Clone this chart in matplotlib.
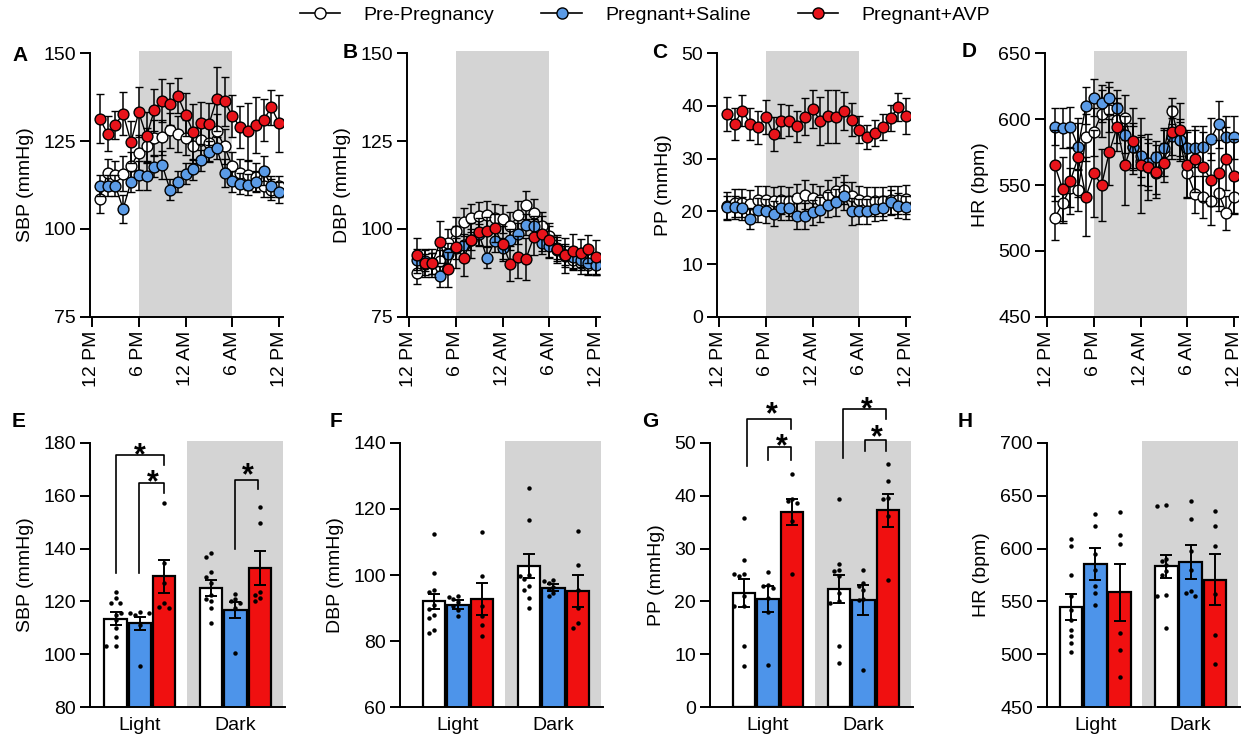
import numpy as np
import matplotlib
matplotlib.use('Agg')
import matplotlib.pyplot as plt
from matplotlib.lines import Line2D
from matplotlib.patches import Rectangle

plt.rcParams['font.family'] = ['Liberation Sans', 'DejaVu Sans']

# ---------------- data ----------------
hours = list(range(1, 25))
time_ticks = [0, 6, 12, 18, 24]
time_labels = ['12 PM', '6 PM', '12 AM', '6 AM', '12 PM']
groups = ['Pre-Pregnancy', 'Pregnant+Saline', 'Pregnant+AVP']
phases = ['Light', 'Dark']

sbp_pre = [108.5, 115.9, 115.2, 115.7, 117.8, 121.7, 123.7, 125.9, 126.1, 128.0, 127.0, 125.9,
           123.7, 125.4, 124.4, 127.7, 123.5, 117.8, 115.9, 115.2, 114.7, 112.1, 111.2, 112.1]
sbp_sal = [112.3, 112.3, 112.3, 105.7, 113.4, 115.2, 115.1, 117.7, 118.3, 111.2, 113.4, 115.7,
           117.0, 119.5, 122.0, 123.0, 115.9, 113.5, 112.9, 112.6, 113.4, 116.6, 112.1, 110.4]
sbp_avp = [131.3, 127.1, 129.6, 132.8, 124.7, 133.2, 126.3, 133.8, 136.5, 135.6, 137.9, 132.5,
           127.5, 130.1, 129.8, 136.9, 136.3, 132.2, 128.9, 127.7, 129.5, 130.9, 134.6, 130.0]
sbp_pre_err = [4, 4, 4, 5, 4, 5, 5, 5, 5, 5, 5, 5, 5, 5, 5, 5, 5, 4, 4, 4, 4, 3, 3, 3]
sbp_sal_err = [3, 3, 3, 4, 3, 4, 4, 3, 4, 3, 3, 3, 3, 3, 3, 3, 4, 3, 3, 3, 3, 4, 3, 3]
sbp_avp_err = [7, 5, 4, 6, 6, 7, 7, 6, 6, 6, 5, 6, 8, 6, 6, 9, 7, 6, 6, 8, 8, 6, 5, 8]

dbp_pre = [87.5, 90.0, 90.3, 91.0, 96.0, 99.5, 101.9, 103.1, 103.6, 104.0, 103.1, 102.8,
           100.8, 104.0, 106.9, 104.5, 100.8, 97.9, 94.6, 92.2, 91.3, 90.3, 89.9, 90.3]
dbp_sal = [91.3, 91.0, 90.3, 86.6, 93.0, 94.5, 95.5, 97.0, 98.5, 91.8, 96.5, 94.5,
           97.0, 98.7, 101.2, 100.8, 96.0, 95.1, 94.0, 92.7, 92.0, 91.3, 90.3, 89.9]
dbp_avp = [92.5, 90.3, 90.3, 96.3, 88.6, 94.9, 91.7, 96.8, 99.1, 99.3, 100.2, 95.8,
           90.1, 92.0, 91.5, 97.7, 98.7, 96.8, 94.4, 92.5, 93.7, 93.2, 94.4, 92.0]
dbp_pre_err = [3, 3, 3, 3, 4, 4, 4, 4, 4, 4, 4, 4, 4, 4, 4, 4, 4, 3, 3, 3, 3, 3, 3, 3]
dbp_sal_err = [3, 3, 3, 3, 3, 3, 3, 3, 3, 3, 3, 3, 3, 3, 3, 3, 3, 3, 3, 3, 3, 3, 3, 3]
dbp_avp_err = [5, 4, 4, 6, 5, 6, 5, 5, 4, 4, 4, 5, 5, 6, 6, 5, 5, 5, 4, 5, 5, 4, 4, 5]

pp_pre = [21.0, 21.6, 21.6, 21.4, 22.2, 22.2, 21.9, 22.2, 21.9, 22.5, 23.2, 22.5,
          22.2, 23.2, 23.9, 24.1, 22.9, 22.2, 21.9, 21.9, 21.9, 22.2, 22.2, 22.3]
pp_sal = [20.8, 20.8, 20.6, 18.6, 20.3, 20.1, 19.6, 20.6, 20.6, 19.1, 19.1, 19.8,
          20.3, 21.3, 21.7, 22.9, 20.0, 20.0, 20.0, 20.5, 20.6, 21.7, 21.1, 20.8]
pp_avp = [38.5, 36.6, 39.1, 36.6, 35.9, 37.9, 34.7, 37.1, 37.2, 36.1, 37.9, 39.4,
          37.1, 38.0, 37.9, 39.1, 37.4, 35.5, 34.1, 34.8, 36.0, 37.7, 39.8, 38.1]
pp_pre_err = [2.7] * 24
pp_sal_err = [2.2, 2.2, 2.2, 2.0, 2.3, 2.3, 2.4, 2.3, 2.3, 2.4, 2.4, 2.4,
              2.4, 2.4, 2.5, 2.6, 2.5, 2.4, 2.3, 2.3, 2.3, 2.3, 2.3, 2.2]
pp_avp_err = [3.2, 3.0, 3.0, 3.0, 3.2, 3.2, 3.2, 3.2, 3.0, 3.0, 3.5, 3.6,
              4.6, 5.0, 5.0, 3.6, 3.2, 2.5, 2.2, 2.5, 2.4, 2.4, 2.6, 3.4]

hr_pre = [525, 536, 548, 546, 586, 590, 604, 607, 599, 601, 579, 568,
          564, 559, 575, 606, 584, 559, 543, 541, 538, 544, 529, 541]
hr_sal = [594, 593, 594, 579, 610, 616, 612, 616, 608, 588, 579, 572,
          567, 571, 578, 587, 584, 578, 578, 579, 585, 596, 586, 586]
hr_avp = [565, 547, 553, 571, 541, 559, 550, 575, 594, 565, 583, 565,
          564, 560, 567, 590, 592, 565, 570, 564, 554, 559, 570, 557]
hr_pre_err = [17, 15, 15, 16, 18, 18, 18, 17, 17, 17, 18, 18, 18, 16, 18, 10, 16, 18, 14, 16, 18, 14, 13, 13]
hr_sal_err = [14, 15, 15, 18, 14, 14, 14, 12, 14, 14, 16, 16, 18, 12, 14, 14, 14, 14, 14, 16, 16, 18, 16, 16]
hr_avp_err = [27, 24, 25, 30, 30, 33, 27, 25, 18, 30, 25, 36, 25, 20, 15, 20, 20, 25, 25, 26, 20, 25, 24, 28]

# bar summaries (mean, sem), order: Light(pre, sal, avp), Dark(pre, sal, avp)
sbp_bar_mean = [113.5, 111.7, 129.5, 125.0, 116.7, 132.7]
sbp_bar_sem = [2.5, 2.5, 6.3, 3.0, 3.0, 6.5]
sbp_dots = [[123.7, 121.2, 119.5, 119.5, 115.0, 113.0, 110.0, 106.7, 103.2, 103.0],
            [116.0, 115.5, 115.5, 115.8, 115.0, 111.0, 95.6],
            [157.3, 134.4, 126.9, 119.3, 117.5, 118.0],
            [138.2, 136.9, 131.2, 129.4, 127.0, 122.4, 120.8, 117.4, 111.8, 120.0],
            [123.0, 120.8, 119.3, 117.4, 100.4, 120.0],
            [155.6, 149.5, 122.4, 121.2, 120.0, 123.7]]

dbp_bar_mean = [92.0, 91.0, 92.7, 102.7, 96.2, 95.2]
dbp_bar_sem = [2.3, 1.3, 4.8, 3.5, 1.0, 4.8]
dbp_dots = [[112.3, 100.5, 95.6, 95.0, 90.8, 89.6, 87.0, 83.5, 82.5, 88.0],
            [93.5, 93.2, 92.7, 91.7, 90.7, 87.6, 89.5],
            [113.0, 99.6, 90.7, 87.6, 81.6, 85.0],
            [126.4, 116.6, 100.0, 99.6, 98.8, 96.6, 95.6, 93.1, 90.1],
            [98.6, 98.2, 97.7, 95.9, 93.6, 94.7, 96.5],
            [113.3, 102.9, 95.6, 85.6, 84.1, 90.0]]

pp_bar_mean = [21.6, 20.5, 36.9, 22.4, 20.3, 37.2]
pp_bar_sem = [2.6, 2.5, 2.5, 2.6, 2.8, 3.2]
pp_dots = [[35.8, 27.8, 25.2, 25.2, 24.8, 21.0, 19.2, 19.2, 11.5, 7.8],
           [25.5, 23.2, 22.9, 20.6, 18.1, 8.0, 22.5],
           [44.1, 39.4, 39.0, 38.6, 35.2, 25.1],
           [39.4, 27.1, 26.0, 25.7, 24.8, 21.6, 19.8, 11.6, 8.3, 20.0],
           [26.0, 23.5, 22.9, 22.2, 20.2, 7.1, 20.5],
           [45.9, 42.7, 39.6, 39.3, 36.1, 24.0]]

hr_bar_mean = [544.7, 585.4, 558.6, 583.2, 587.3, 570.6]
hr_bar_sem = [12.6, 15.0, 27.0, 11.0, 16.0, 24.0]
hr_dots = [[609.0, 602.1, 575.3, 554.8, 542.2, 532.7, 523.2, 516.9, 510.6, 502.7],
           [633.1, 621.7, 595.2, 580.0, 557.9, 546.9, 565.0],
           [634.3, 612.6, 604.7, 520.6, 504.2, 478.3],
           [641.6, 640.6, 590.0, 584.8, 578.5, 556.4, 555.4, 524.8, 588.0, 575.0],
           [644.8, 628.0, 597.4, 580.0, 557.9, 555.4, 559.5],
           [635.3, 621.7, 602.7, 557.3, 518.5, 491.0]]

# ---------------- style ----------------
W, H = 1242, 737
C_PRE = '#FFFFFF'
C_SAL_M = '#5B9BE6'
C_AVP_M = '#E8141B'
C_SAL_B = '#4D94EA'
C_AVP_B = '#F01010'
GRAY = '#D4D4D4'
FS = 14

fig = plt.figure(figsize=(W / 100, H / 100), dpi=100)


def ax_px(x0, x1, y0, y1):
    return fig.add_axes([x0 / W, 1 - y1 / H, (x1 - x0) / W, (y1 - y0) / H])


def style_axes(ax):
    for s in ['top', 'right']:
        ax.spines[s].set_visible(False)
    for s in ['left', 'bottom']:
        ax.spines[s].set_linewidth(1.4)
    ax.tick_params(axis='both', direction='out', length=7, width=1.4, labelsize=FS, pad=3)


def top_panel(ax, pre, sal, avp, epre, esal, eavp, ylim, yticks, ylabel):
    rng = ylim[1] - ylim[0]
    ax.add_patch(Rectangle((6, ylim[0]), 12, rng * 1.008, facecolor=GRAY, lw=0, zorder=0, clip_on=False))
    for vals, errs, col, z in [(pre, epre, C_PRE, 3), (sal, esal, C_SAL_M, 4), (avp, eavp, C_AVP_M, 5)]:
        ax.errorbar(hours, vals, yerr=errs, fmt='-o', color='black', mfc=col, mec='black', ms=7.8,
                    mew=1.0, lw=1.0, elinewidth=1.1, capsize=3.2, capthick=1.1, zorder=z)
    ax.set_xlim(-0.25, 24.5)
    ax.set_ylim(*ylim)
    ax.set_yticks(yticks)
    ax.set_xticks(time_ticks)
    ax.set_xticklabels(time_labels, rotation=90)
    ax.set_ylabel(ylabel, fontsize=FS, labelpad=7)
    style_axes(ax)


BAR_POS = [0, 1, 2, 3.93, 4.93, 5.93]
BAR_COLORS = [C_PRE, C_SAL_B, C_AVP_B, C_PRE, C_SAL_B, C_AVP_B]
UNIT_PX = 24.3


def swarm_offsets(vals, px_per_y, dot=5.0):
    vals = np.asarray(vals, dtype=float)
    order = np.argsort(vals)[::-1]
    placed = []
    offs = np.zeros(len(vals))
    cands = [0, -1, 1, -2, 2, -3, 3, -4, 4]
    for i in order:
        yp = vals[i] * px_per_y
        xp = 0.0
        for c in cands:
            xp = c * dot * 0.95
            if all((xp - px) ** 2 + (yp - py) ** 2 >= dot ** 2 for px, py in placed):
                break
        placed.append((xp, yp))
        offs[i] = xp
    return offs / UNIT_PX


def bar_panel(ax, means, sems, dots, ylim, yticks, ylabel, xleft):
    rng = ylim[1] - ylim[0]
    ax.add_patch(Rectangle((2.93, ylim[0]), 6.9 - 2.93, rng * 1.007, facecolor=GRAY, lw=0,
                           zorder=0, clip_on=False))
    ax.bar(BAR_POS, means, width=0.92, color=BAR_COLORS, edgecolor='black', linewidth=1.6, zorder=2)
    ax.errorbar(BAR_POS, means, yerr=sems, fmt='none', ecolor='black', elinewidth=1.4,
                capsize=4.5, capthick=1.4, zorder=4)
    px_per_y = 264.6 / rng
    for pos, d in zip(BAR_POS, dots):
        offs = swarm_offsets(d, px_per_y)
        ax.plot(np.array(pos) + offs, d, 'o', color='black', ms=3.2, mew=0, zorder=3)
    ax.set_xlim(xleft, 6.97)
    ax.set_ylim(*ylim)
    ax.set_yticks(yticks)
    ax.set_xticks([1, 4.93])
    ax.set_xticklabels(phases)
    ax.set_ylabel(ylabel, fontsize=FS, labelpad=7)
    style_axes(ax)
    ax.tick_params(axis='x', length=0, pad=7)


def bracket(ax, x1, x2, ytop, yl1, yl2, sx, sy):
    ax.plot([x1, x1, x2, x2], [yl1, ytop, ytop, yl2], color='black', lw=1.2, clip_on=False, zorder=6)
    fs = 22
    ax.annotate('*', xy=(sx, sy), xytext=(0, -0.62 * fs), textcoords='offset points',
                ha='center', va='baseline', fontsize=fs, fontweight='bold', annotation_clip=False)


# ---------------- top row ----------------
TOP_Y0, TOP_Y1 = 53, 317
axA = ax_px(90, 283, TOP_Y0, TOP_Y1)
top_panel(axA, sbp_pre, sbp_sal, sbp_avp, sbp_pre_err, sbp_sal_err, sbp_avp_err,
          (75, 150), [75, 100, 125, 150], 'SBP (mmHg)')
axB = ax_px(407, 600, TOP_Y0, TOP_Y1)
top_panel(axB, dbp_pre, dbp_sal, dbp_avp, dbp_pre_err, dbp_sal_err, dbp_avp_err,
          (75, 150), [75, 100, 125, 150], 'DBP (mmHg)')
axC = ax_px(717, 910, TOP_Y0, TOP_Y1)
top_panel(axC, pp_pre, pp_sal, pp_avp, pp_pre_err, pp_sal_err, pp_avp_err,
          (0, 50), [0, 10, 20, 30, 40, 50], 'PP (mmHg)')
axD = ax_px(1045, 1238, TOP_Y0, TOP_Y1)
top_panel(axD, hr_pre, hr_sal, hr_avp, hr_pre_err, hr_sal_err, hr_avp_err,
          (450, 650), [450, 500, 550, 600, 650], 'HR (bpm)')

# ---------------- bottom row ----------------
BOT_Y0, BOT_Y1 = 442.7, 707.3
axE = ax_px(90, 285, BOT_Y0, BOT_Y1)
bar_panel(axE, sbp_bar_mean, sbp_bar_sem, sbp_dots, (80, 180), [80, 100, 120, 140, 160, 180],
          'SBP (mmHg)', -1.05)
bracket(axE, 0, 2.0, 175.3, 130.6, 171.5, 1.0, 179.1)
bracket(axE, 0.98, 2.0, 164.9, 130.6, 160.9, 1.55, 169.0)
bracket(axE, 4.92, 5.88, 165.9, 140.0, 162.4, 5.43, 171.6)

axF = ax_px(400, 603, BOT_Y0, BOT_Y1)
bar_panel(axF, dbp_bar_mean, dbp_bar_sem, dbp_dots, (60, 140), [60, 80, 100, 120, 140],
          'DBP (mmHg)', -1.39)

axG = ax_px(710, 913, BOT_Y0, BOT_Y1)
bar_panel(axG, pp_bar_mean, pp_bar_sem, pp_dots, (0, 50), [0, 10, 20, 30, 40, 50],
          'PP (mmHg)', -1.39)
bracket(axG, 0.15, 1.94, 54.5, 45.6, 52.6, 1.15, 57.2)
bracket(axG, 1.0, 1.94, 49.2, 46.8, 46.8, 1.56, 51.2)
bracket(axG, 4.09, 5.87, 56.3, 47.2, 54.4, 5.06, 58.2)
bracket(axG, 4.99, 5.87, 50.6, 48.4, 48.4, 5.47, 53.0)

axH = ax_px(1046.7, 1240, BOT_Y0, BOT_Y1)
bar_panel(axH, hr_bar_mean, hr_bar_sem, hr_dots, (450, 700), [450, 500, 550, 600, 650, 700],
          'HR (bpm)', -1.01)

# ---------------- panel letters ----------------
letters = [('A', 12, 61), ('B', 343, 58), ('C', 652, 58), ('D', 962, 57),
           ('E', 12, 427), ('F', 330, 427), ('G', 642, 427), ('H', 958, 427)]
for t, x, y in letters:
    fig.text(x / W, 1 - y / H, t, fontsize=15, fontweight='bold', ha='left', va='baseline')

# ---------------- legend ----------------
handles = [Line2D([0], [0], color='black', lw=1.2, marker='o', mfc=c, mec='black', ms=8, mew=1.0)
           for c in [C_PRE, C_SAL_M, C_AVP_M]]
fig.legend(handles, groups, loc='center', bbox_to_anchor=(645 / W, 1 - 15 / H), ncol=3,
           frameon=False, fontsize=FS, handlelength=2.1, handletextpad=1.2, columnspacing=2.4,
           borderaxespad=0, borderpad=0)

fig.savefig('out.png', dpi=100)
